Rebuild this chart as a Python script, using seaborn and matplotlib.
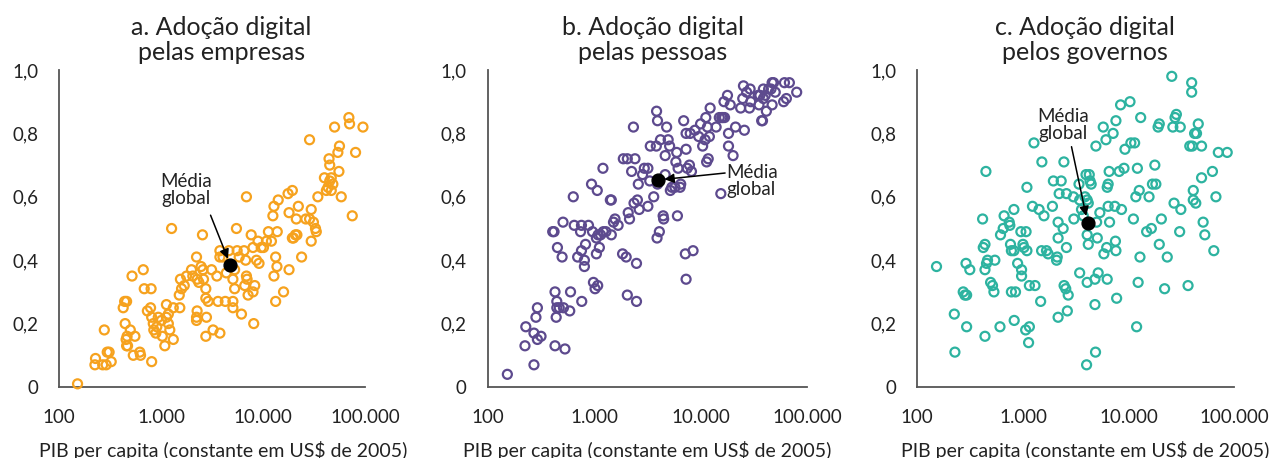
import numpy as np
import pandas as pd
import matplotlib
matplotlib.use("Agg")
import matplotlib.pyplot as plt
import seaborn as sns

# ---------------- data ----------------
# Panel a: empresas
gdp_a = [152, 228, 225, 278, 290, 297, 310, 325, 268, 426, 440, 460, 445, 465, 455, 460, 470,
         500, 520, 555, 535, 620, 630, 670, 685, 800, 735, 790, 810, 810, 840, 850, 890, 910,
         940, 1030, 1010, 1090, 1130, 1130, 1180, 1180, 1220, 1270, 1320, 1320, 1530, 1510,
         1550, 1590, 1690, 1780, 1990, 2050, 2230, 2260, 2230, 2230, 2260, 2350, 2470, 2550,
         2580, 2610, 2750, 2750, 2790, 2750, 2900, 3130, 3240, 3530, 3620, 3780, 3780, 3780,
         4050, 4270, 4370, 4630, 5070, 5070, 5070, 5270, 5270, 5490, 5580, 5840, 6150, 6520,
         6620, 6760, 6880, 6880, 6980, 7140, 7660, 7980, 7980, 8110, 8300, 8630, 8940, 9140,
         9600, 10100, 10800, 11300, 12100, 12500, 12800, 12800, 13300, 13300, 13700, 13800,
         14100, 15900, 17600, 18000, 18000, 19400, 19400, 19900, 20800, 21500, 21200, 22200,
         23900, 26300, 28600, 28600, 29700, 29700, 31200, 32700, 33300, 34500, 40000, 41800,
         43400, 44400, 45100, 45100, 46700, 46700, 48400, 50300, 54200, 55500, 56200, 58500,
         69500, 70600, 75000, 80800, 95500]
adop_a = [0.01, 0.09, 0.07, 0.18, 0.07, 0.11, 0.11, 0.08, 0.07, 0.25, 0.27, 0.27, 0.20, 0.16,
          0.15, 0.13, 0.13, 0.18, 0.35, 0.16, 0.10, 0.11, 0.10, 0.37, 0.31, 0.31, 0.24, 0.25,
          0.22, 0.08, 0.20, 0.18, 0.17, 0.19, 0.22, 0.16, 0.21, 0.13, 0.26, 0.22, 0.23, 0.20,
          0.18, 0.50, 0.15, 0.25, 0.25, 0.29, 0.34, 0.31, 0.32, 0.35, 0.37, 0.35, 0.41, 0.24,
          0.22, 0.21, 0.34, 0.33, 0.38, 0.48, 0.37, 0.34, 0.31, 0.28, 0.22, 0.16, 0.27, 0.37,
          0.18, 0.35, 0.27, 0.17, 0.43, 0.41, 0.41, 0.27, 0.36, 0.43, 0.34, 0.27, 0.25, 0.37,
          0.31, 0.50, 0.43, 0.41, 0.23, 0.43, 0.32, 0.40, 0.60, 0.35, 0.34, 0.29, 0.48, 0.44,
          0.30, 0.20, 0.32, 0.40, 0.46, 0.39, 0.44, 0.44, 0.46, 0.49, 0.46, 0.54, 0.57, 0.35,
          0.41, 0.27, 0.38, 0.49, 0.59, 0.30, 0.61, 0.37, 0.55, 0.62, 0.47, 0.47, 0.48, 0.48,
          0.53, 0.57, 0.41, 0.53, 0.53, 0.78, 0.56, 0.46, 0.52, 0.50, 0.49, 0.60, 0.66, 0.62,
          0.63, 0.72, 0.70, 0.65, 0.66, 0.62, 0.64, 0.82, 0.74, 0.68, 0.76, 0.60, 0.85, 0.83,
          0.54, 0.74, 0.82]

# Panel b: pessoas
gdp_b = [153, 228, 224, 272, 272, 284, 293, 293, 317, 429, 429, 440, 446, 446, 470, 408, 420,
         452, 500, 510, 515, 532, 590, 600, 637, 650, 700, 745, 760, 760, 765, 810, 810, 830,
         885, 945, 965, 985, 1020, 1050, 1070, 1080, 1050, 1090, 1120, 1150, 1210, 1220, 1290,
         1420, 1450, 1450, 1520, 1570, 1680, 1850, 1880, 2000, 2050, 2050, 2090, 2150, 2250,
         2340, 2370, 2420, 2500, 2500, 2550, 2600, 2650, 2850, 2960, 3200, 3200, 3330, 3370,
         3630, 3840, 3860, 3940, 3900, 3940, 4100, 4200, 4450, 4500, 4650, 4650, 4800, 4960,
         5120, 5200, 5370, 5740, 5860, 5970, 6150, 6060, 6420, 6510, 6940, 7190, 7310, 7310,
         7310, 7490, 7860, 7990, 8210, 8500, 8850, 9610, 10000, 10460, 11030, 11200, 11400,
         11600, 11800, 12100, 12300, 14000, 15000, 15500, 15800, 16200, 16800, 16600, 17900,
         18300, 18300, 19000, 20200, 21300, 23800, 24900, 25300, 25800, 27100, 28800, 29200,
         29600, 34800, 35400, 36100, 37500, 38200, 38900, 38900, 40500, 41500, 43600, 45900,
         47000, 47000, 48500, 50300, 60300, 61400, 64000, 68300, 80000]
adop_b = [0.04, 0.19, 0.13, 0.07, 0.17, 0.22, 0.25, 0.15, 0.16, 0.13, 0.30, 0.22, 0.27, 0.25,
          0.25, 0.49, 0.49, 0.44, 0.41, 0.52, 0.25, 0.12, 0.24, 0.30, 0.60, 0.51, 0.41, 0.49,
          0.51, 0.43, 0.27, 0.40, 0.38, 0.45, 0.51, 0.64, 0.49, 0.33, 0.31, 0.42, 0.62, 0.32,
          0.47, 0.48, 0.44, 0.48, 0.69, 0.49, 0.49, 0.59, 0.59, 0.48, 0.52, 0.53, 0.51, 0.42,
          0.72, 0.41, 0.72, 0.29, 0.55, 0.53, 0.68, 0.82, 0.58, 0.72, 0.39, 0.27, 0.59, 0.64,
          0.56, 0.67, 0.69, 0.69, 0.57, 0.65, 0.76, 0.60, 0.76, 0.87, 0.84, 0.47, 0.64, 0.49,
          0.78, 0.54, 0.53, 0.67, 0.73, 0.82, 0.78, 0.76, 0.62, 0.63, 0.63, 0.71, 0.74, 0.69,
          0.54, 0.63, 0.64, 0.84, 0.42, 0.75, 0.80, 0.34, 0.69, 0.70, 0.80, 0.68, 0.43, 0.81,
          0.79, 0.83, 0.76, 0.78, 0.85, 0.71, 0.82, 0.72, 0.79, 0.88, 0.82, 0.85, 0.61, 0.85,
          0.85, 0.85, 0.90, 0.92, 0.80, 0.76, 0.89, 0.73, 0.82, 0.88, 0.91, 0.95, 0.81, 0.93,
          0.88, 0.94, 0.90, 0.92, 0.89, 0.92, 0.84, 0.84, 0.94, 0.91, 0.92, 0.87, 0.94, 0.94,
          0.89, 0.96, 0.96, 0.93, 0.90, 0.96, 0.91, 0.96, 0.93]

# Panel c: governos
gdp_c = [152, 224, 227, 272, 282, 293, 289, 293, 314, 415, 421, 437, 437, 446, 452, 462, 437,
         494, 515, 531, 542, 606, 613, 650, 663, 741, 751, 762, 777, 821, 777, 821, 826, 850,
         890, 955, 970, 970, 1000, 1020, 1070, 1090, 1090, 1060, 1130, 1150, 1150, 1230, 1270,
         1300, 1420, 1470, 1500, 1510, 1580, 1670, 1730, 1900, 1940, 2080, 2110, 2150, 2150,
         2150, 2200, 2300, 2400, 2440, 2450, 2540, 2580, 2580, 2630, 2680, 3000, 3030, 3390,
         3440, 3440, 3580, 3720, 3860, 3950, 4000, 4050, 4050, 4050, 4150, 4150, 4240, 4310,
         4420, 4800, 4800, 4860, 4900, 4980, 5050, 5150, 5340, 5750, 5830, 6100, 6200, 6270,
         6270, 6400, 6400, 6540, 6600, 7130, 7400, 7500, 7580, 7580, 7700, 8140, 8390, 8560,
         9040, 9230, 10300, 10500, 11100, 11400, 11700, 11900, 12100, 12300, 12600, 12800,
         13000, 14800, 15600, 16400, 16800, 17700, 18100, 19000, 19500, 19500, 20400, 21900,
         23200, 25600, 26200, 26900, 27500, 28300, 30400, 30800, 31200, 36500, 37900, 39500,
         39500, 40000, 40900, 40900, 42100, 43200, 43900, 45600, 49000, 49000, 50700, 52600,
         62100, 64000, 67000, 70600, 85700]
adop_c = [0.38, 0.23, 0.11, 0.30, 0.29, 0.29, 0.39, 0.19, 0.37, 0.53, 0.44, 0.45, 0.37, 0.68,
          0.39, 0.40, 0.16, 0.33, 0.32, 0.30, 0.40, 0.19, 0.48, 0.50, 0.54, 0.52, 0.51, 0.45,
          0.43, 0.43, 0.30, 0.56, 0.21, 0.30, 0.39, 0.49, 0.37, 0.35, 0.45, 0.44, 0.49, 0.63,
          0.43, 0.18, 0.14, 0.19, 0.32, 0.57, 0.77, 0.32, 0.56, 0.27, 0.43, 0.71, 0.54, 0.43,
          0.42, 0.57, 0.65, 0.40, 0.41, 0.47, 0.52, 0.22, 0.61, 0.65, 0.50, 0.71, 0.32, 0.31,
          0.44, 0.61, 0.24, 0.29, 0.60, 0.53, 0.64, 0.36, 0.59, 0.56, 0.54, 0.60, 0.67, 0.07,
          0.33, 0.59, 0.48, 0.45, 0.58, 0.67, 0.65, 0.64, 0.34, 0.26, 0.11, 0.76, 0.52, 0.47,
          0.36, 0.55, 0.82, 0.42, 0.78, 0.44, 0.34, 0.63, 0.64, 0.57, 0.68, 0.52, 0.80, 0.57,
          0.46, 0.84, 0.43, 0.28, 0.68, 0.89, 0.56, 0.69, 0.75, 0.90, 0.77, 0.53, 0.77, 0.60,
          0.19, 0.69, 0.33, 0.62, 0.41, 0.85, 0.49, 0.60, 0.50, 0.64, 0.70, 0.64, 0.82, 0.45,
          0.83, 0.53, 0.31, 0.41, 0.98, 0.82, 0.58, 0.85, 0.86, 0.49, 0.82, 0.56, 0.32, 0.76,
          0.96, 0.93, 0.76, 0.62, 0.59, 0.80, 0.58, 0.80, 0.83, 0.76, 0.66, 0.52, 0.48, 0.68,
          0.43, 0.60, 0.74, 0.74]

# Global averages (GDP per capita, adoption)
media_gdp = [4800, 3950, 4090]
media_val = [0.384, 0.653, 0.518]

titles = ["a. Adoção digital\npelas empresas",
          "b. Adoção digital\npelas pessoas",
          "c. Adoção digital\npelos governos"]
xlabel = "PIB per capita (constante em US$ de 2005)"
xticks = [100, 1000, 10000, 100000]
xticklabels = ["100", "1.000", "10.000", "100.000"]
yticks = [0, 0.2, 0.4, 0.6, 0.8, 1.0]
yticklabels = ["0", "0,2", "0,4", "0,6", "0,8", "1,0"]
annot_text = "Média\nglobal"
# annotation text anchor and arrow start (data coords) per panel
annot_xy_text = [(1750, 0.62), (17500, 0.65), (2400, 0.825)]
arrow_tail = [(3060, 0.542), (17000, 0.675), (2880, 0.758)]

colors = ["#F6A21E", "#5D4A8E", "#2DB3A0"]

# ---------------- plot ----------------
sns.set_theme(style="white")
plt.rcParams['font.family'] = ['Lato', 'DejaVu Sans']

W, H = 1278, 458
fig = plt.figure(figsize=(W / 100, H / 100), dpi=100)

ax_px = [(59, 306), (487.7, 319.3), (917.3, 317)]
title_x = [0.53, 0.518, 0.528]
xlabel_x = [0.536, 0.5, 0.53]
bottom = (458 - 387) / H
height = 317 / H

datasets = [(gdp_a, adop_a), (gdp_b, adop_b), (gdp_c, adop_c)]

for i, (gdp, adop) in enumerate(datasets):
    left, width = ax_px[i]
    ax = fig.add_axes([left / W, bottom, width / W, height])
    df = pd.DataFrame({"gdp": gdp, "adop": adop})
    sns.scatterplot(data=df, x="gdp", y="adop", ax=ax, s=42,
                    facecolors="none", edgecolors=colors[i], linewidth=1.6,
                    clip_on=False, zorder=3)
    ax.scatter([media_gdp[i]], [media_val[i]], s=85, color="black", zorder=5, clip_on=False)
    # annotation
    tx, ty = annot_xy_text[i]
    ax.text(tx, ty, annot_text, fontsize=13.5, ha="center" if i != 1 else "left",
            va="center", color="#222222", linespacing=1.0, zorder=6)
    ax.annotate("", xy=(media_gdp[i], media_val[i]), xytext=arrow_tail[i],
                arrowprops=dict(arrowstyle="-|>", color="black", lw=1.1,
                                mutation_scale=14, shrinkA=0, shrinkB=5),
                zorder=6)
    ax.set_xscale("log")
    ax.set_xlim(100, 100000)
    ax.set_ylim(0, 1.0)
    ax.set_xticks(xticks)
    ax.set_xticklabels(xticklabels)
    ax.xaxis.set_minor_locator(matplotlib.ticker.NullLocator())
    ax.set_yticks(yticks)
    ax.set_yticklabels(yticklabels)
    ax.tick_params(axis="both", which="major", direction="out", length=6, width=1.2,
                   color="#555555", labelsize=13.5, labelcolor="#222222", pad=9)
    ax.tick_params(axis="x", pad=10)
    for s in ["top", "right"]:
        ax.spines[s].set_visible(False)
    for s in ["left", "bottom"]:
        ax.spines[s].set_color("#555555")
        ax.spines[s].set_linewidth(1.3)
    ax.set_xlabel(xlabel, fontsize=14, color="#222222")
    ax.xaxis.set_label_coords(xlabel_x[i], -0.17)
    ax.set_ylabel("")
    ax.set_title(titles[i], fontsize=18, color="#222222", x=title_x[i], pad=7,
                 linespacing=1.1)
    ax.grid(False)
    ax.set_facecolor("white")

fig.savefig("out.png", dpi=100, facecolor="white")
